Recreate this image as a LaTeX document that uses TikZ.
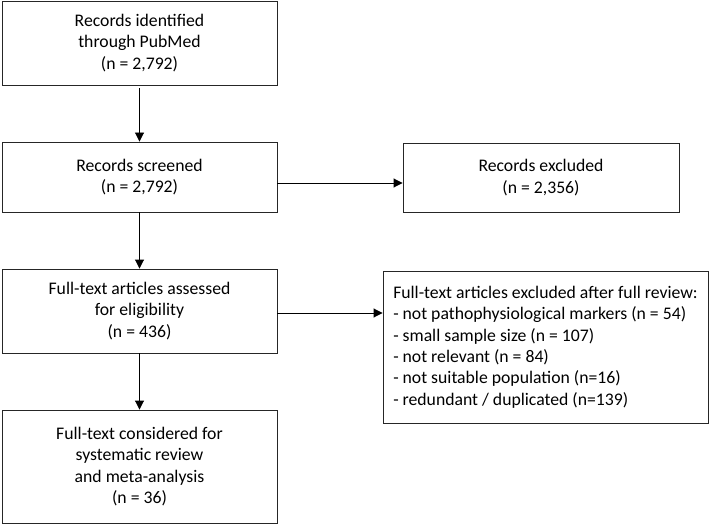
\documentclass[tikz,border=0pt]{standalone}
\usepackage{fontspec}
\setmainfont{Carlito}
\usetikzlibrary{arrows.meta}
\tikzset{
  box/.style={draw=black!85, line width=0.9pt, align=center, inner sep=0pt,
    font=\fontsize{17.7}{21.4}\selectfont},
  arr/.style={draw=black, line width=0.9pt, -{Triangle[length=9pt,width=9pt]}}
}
\begin{document}
\begin{tikzpicture}[x=1pt,y=1pt]
\useasboundingbox (0,0) rectangle (709,-524);
\node[box, minimum width=275, minimum height=84] (b1) at (139.5,-43)
  {Records identified\\through PubMed\\(n = 2,792)};
\node[box, minimum width=275, minimum height=70] (b2) at (139.5,-177)
  {Records screened\\(n = 2,792)};
\node[box, minimum width=276, minimum height=69] (b3) at (541,-177.5)
  {Records excluded\\(n = 2,356)};
\node[box, minimum width=275, minimum height=84] (b4) at (139.5,-311)
  {Full-text articles assessed\\for eligibility\\(n = 436)};
\node[box, align=left, minimum width=325, minimum height=152] (b5) at (545.5,-347)
  {Full-text articles excluded after full review:\\
   - not pathophysiological markers (n = 54)\\
   - small sample size (n = 107)\\
   - not relevant (n = 84)\\
   - not suitable population (n=16)\\
   - redundant / duplicated (n=139)};
\node[box, minimum width=275, minimum height=113] (b6) at (139.5,-466.5)
  {Full-text considered for\\systematic review\\and meta-analysis\\(n = 36)};
\coordinate (c2) at ([yshift=-6pt]b2.east);
\coordinate (c4) at ([yshift=-2pt]b4.east);
\draw[arr] ([yshift=-3pt]b1.south) -- (b2.north);
\draw[arr] (b2.south) -- (b4.north);
\draw[arr] (b4.south) -- (b6.north);
\draw[arr] (c2) -- (b3.west |- c2);
\draw[arr] (c4) -- (b5.west |- c4);
\end{tikzpicture}
\end{document}
